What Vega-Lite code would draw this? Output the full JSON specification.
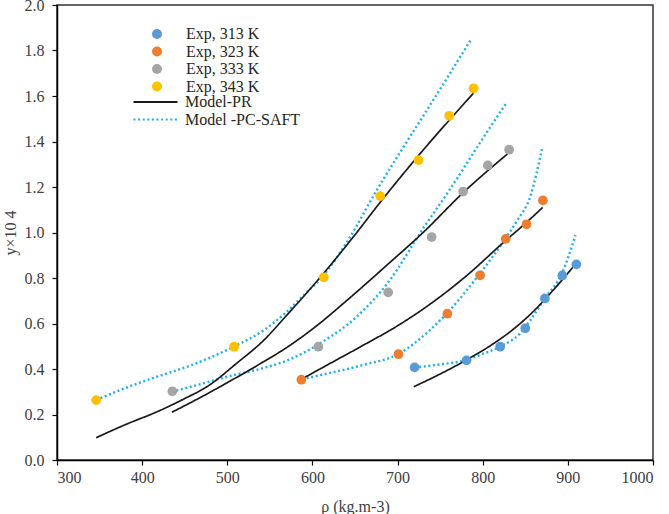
{
  "$schema": "https://vega.github.io/schema/vega-lite/v6.json",
  "width": 596,
  "height": 455,
  "autosize": "none",
  "padding": {"left": 57, "top": 5, "right": 16, "bottom": 54},
  "background": "white",
  "config": {
    "font": "Liberation Serif",
    "view": {"stroke": "#333333", "strokeWidth": 1.5},
    "style": {"guide-label": {"font": "Liberation Serif"}, "guide-title": {"font": "Liberation Serif"}},
    "axis": {
      "labelFont": "Liberation Serif", "labelFontSize": 16, "labelColor": "#404040",
      "titleFont": "Liberation Serif", "titleFontSize": 16, "titleFontWeight": "normal", "titleColor": "#404040",
      "domainColor": "#000000", "domainWidth": 1.5, "tickColor": "#000000", "tickWidth": 1.2, "tickSize": 5, "grid": false
    },
    "legend": {"labelFont": "Liberation Serif", "labelFontSize": 16, "labelColor": "#262626", "padding": 0, "rowPadding": 1.5, "titlePadding": 0}
  },
  "datasets": {
    "exp": [
      {"series": "Exp, 313 K", "rho": 720, "y": 0.407},
      {"series": "Exp, 313 K", "rho": 781, "y": 0.438},
      {"series": "Exp, 313 K", "rho": 820.5, "y": 0.498},
      {"series": "Exp, 313 K", "rho": 850, "y": 0.579},
      {"series": "Exp, 313 K", "rho": 873, "y": 0.71},
      {"series": "Exp, 313 K", "rho": 893.5, "y": 0.811},
      {"series": "Exp, 313 K", "rho": 910, "y": 0.86},
      {"series": "Exp, 323 K", "rho": 587, "y": 0.353},
      {"series": "Exp, 323 K", "rho": 701, "y": 0.465},
      {"series": "Exp, 323 K", "rho": 758.5, "y": 0.643},
      {"series": "Exp, 323 K", "rho": 797, "y": 0.812},
      {"series": "Exp, 323 K", "rho": 827, "y": 0.972},
      {"series": "Exp, 323 K", "rho": 851.5, "y": 1.036},
      {"series": "Exp, 323 K", "rho": 870.7, "y": 1.141},
      {"series": "Exp, 333 K", "rho": 435.5, "y": 0.302},
      {"series": "Exp, 333 K", "rho": 607, "y": 0.498},
      {"series": "Exp, 333 K", "rho": 689, "y": 0.737},
      {"series": "Exp, 333 K", "rho": 740, "y": 0.98},
      {"series": "Exp, 333 K", "rho": 777, "y": 1.18},
      {"series": "Exp, 333 K", "rho": 806, "y": 1.295},
      {"series": "Exp, 333 K", "rho": 831, "y": 1.364},
      {"series": "Exp, 343 K", "rho": 346, "y": 0.263},
      {"series": "Exp, 343 K", "rho": 508, "y": 0.498},
      {"series": "Exp, 343 K", "rho": 613.4, "y": 0.803},
      {"series": "Exp, 343 K", "rho": 679.6, "y": 1.16},
      {"series": "Exp, 343 K", "rho": 724.6, "y": 1.318},
      {"series": "Exp, 343 K", "rho": 760.7, "y": 1.513},
      {"series": "Exp, 343 K", "rho": 789.3, "y": 1.634}
    ],
    "pr": [
      {"series": "Model-PR", "curve": "PR343", "rho": 346, "y": 0.098},
      {"series": "Model-PR", "curve": "PR343", "rho": 380, "y": 0.155},
      {"series": "Model-PR", "curve": "PR343", "rho": 417.5, "y": 0.212},
      {"series": "Model-PR", "curve": "PR343", "rho": 450, "y": 0.27},
      {"series": "Model-PR", "curve": "PR343", "rho": 476, "y": 0.322},
      {"series": "Model-PR", "curve": "PR343", "rho": 511, "y": 0.425},
      {"series": "Model-PR", "curve": "PR343", "rho": 543, "y": 0.527},
      {"series": "Model-PR", "curve": "PR343", "rho": 570, "y": 0.637},
      {"series": "Model-PR", "curve": "PR343", "rho": 613, "y": 0.82},
      {"series": "Model-PR", "curve": "PR343", "rho": 650, "y": 0.99},
      {"series": "Model-PR", "curve": "PR343", "rho": 679, "y": 1.13},
      {"series": "Model-PR", "curve": "PR343", "rho": 725, "y": 1.34},
      {"series": "Model-PR", "curve": "PR343", "rho": 789, "y": 1.612},
      {"series": "Model-PR", "curve": "PR333", "rho": 435, "y": 0.21},
      {"series": "Model-PR", "curve": "PR333", "rho": 470, "y": 0.278},
      {"series": "Model-PR", "curve": "PR333", "rho": 500, "y": 0.34},
      {"series": "Model-PR", "curve": "PR333", "rho": 535, "y": 0.415},
      {"series": "Model-PR", "curve": "PR333", "rho": 570, "y": 0.495},
      {"series": "Model-PR", "curve": "PR333", "rho": 605, "y": 0.59},
      {"series": "Model-PR", "curve": "PR333", "rho": 640, "y": 0.7},
      {"series": "Model-PR", "curve": "PR333", "rho": 690, "y": 0.865},
      {"series": "Model-PR", "curve": "PR333", "rho": 730, "y": 1.0},
      {"series": "Model-PR", "curve": "PR333", "rho": 777, "y": 1.175},
      {"series": "Model-PR", "curve": "PR333", "rho": 829, "y": 1.345},
      {"series": "Model-PR", "curve": "PR323", "rho": 588, "y": 0.357},
      {"series": "Model-PR", "curve": "PR323", "rho": 621, "y": 0.425},
      {"series": "Model-PR", "curve": "PR323", "rho": 660, "y": 0.505},
      {"series": "Model-PR", "curve": "PR323", "rho": 700, "y": 0.59},
      {"series": "Model-PR", "curve": "PR323", "rho": 740, "y": 0.69},
      {"series": "Model-PR", "curve": "PR323", "rho": 781, "y": 0.81},
      {"series": "Model-PR", "curve": "PR323", "rho": 824, "y": 0.955},
      {"series": "Model-PR", "curve": "PR323", "rho": 851.6, "y": 1.045},
      {"series": "Model-PR", "curve": "PR323", "rho": 870.4, "y": 1.11},
      {"series": "Model-PR", "curve": "PR313", "rho": 719, "y": 0.322},
      {"series": "Model-PR", "curve": "PR313", "rho": 750, "y": 0.378},
      {"series": "Model-PR", "curve": "PR313", "rho": 781, "y": 0.44},
      {"series": "Model-PR", "curve": "PR313", "rho": 810, "y": 0.505},
      {"series": "Model-PR", "curve": "PR313", "rho": 836, "y": 0.575},
      {"series": "Model-PR", "curve": "PR313", "rho": 860, "y": 0.655},
      {"series": "Model-PR", "curve": "PR313", "rho": 880, "y": 0.735},
      {"series": "Model-PR", "curve": "PR313", "rho": 906.5, "y": 0.85}
    ],
    "pc": [
      {"series": "Model -PC-SAFT", "curve": "PC343", "rho": 346, "y": 0.264},
      {"series": "Model -PC-SAFT", "curve": "PC343", "rho": 390, "y": 0.33},
      {"series": "Model -PC-SAFT", "curve": "PC343", "rho": 417.5, "y": 0.366},
      {"series": "Model -PC-SAFT", "curve": "PC343", "rho": 460, "y": 0.42},
      {"series": "Model -PC-SAFT", "curve": "PC343", "rho": 507.5, "y": 0.498},
      {"series": "Model -PC-SAFT", "curve": "PC343", "rho": 543, "y": 0.571},
      {"series": "Model -PC-SAFT", "curve": "PC343", "rho": 570, "y": 0.652},
      {"series": "Model -PC-SAFT", "curve": "PC343", "rho": 590, "y": 0.725},
      {"series": "Model -PC-SAFT", "curve": "PC343", "rho": 613, "y": 0.812},
      {"series": "Model -PC-SAFT", "curve": "PC343", "rho": 640, "y": 0.955},
      {"series": "Model -PC-SAFT", "curve": "PC343", "rho": 677, "y": 1.195},
      {"series": "Model -PC-SAFT", "curve": "PC343", "rho": 711, "y": 1.4},
      {"series": "Model -PC-SAFT", "curve": "PC343", "rho": 734, "y": 1.535},
      {"series": "Model -PC-SAFT", "curve": "PC343", "rho": 760, "y": 1.69},
      {"series": "Model -PC-SAFT", "curve": "PC343", "rho": 787, "y": 1.853},
      {"series": "Model -PC-SAFT", "curve": "PC333", "rho": 435, "y": 0.3},
      {"series": "Model -PC-SAFT", "curve": "PC333", "rho": 470, "y": 0.335},
      {"series": "Model -PC-SAFT", "curve": "PC333", "rho": 500, "y": 0.366},
      {"series": "Model -PC-SAFT", "curve": "PC333", "rho": 540, "y": 0.402},
      {"series": "Model -PC-SAFT", "curve": "PC333", "rho": 570, "y": 0.437},
      {"series": "Model -PC-SAFT", "curve": "PC333", "rho": 609, "y": 0.513},
      {"series": "Model -PC-SAFT", "curve": "PC333", "rho": 652, "y": 0.63},
      {"series": "Model -PC-SAFT", "curve": "PC333", "rho": 691, "y": 0.791},
      {"series": "Model -PC-SAFT", "curve": "PC333", "rho": 730, "y": 1.018},
      {"series": "Model -PC-SAFT", "curve": "PC333", "rho": 761, "y": 1.187},
      {"series": "Model -PC-SAFT", "curve": "PC333", "rho": 799, "y": 1.407},
      {"series": "Model -PC-SAFT", "curve": "PC333", "rho": 827, "y": 1.565},
      {"series": "Model -PC-SAFT", "curve": "PC323", "rho": 588, "y": 0.355},
      {"series": "Model -PC-SAFT", "curve": "PC323", "rho": 621, "y": 0.383},
      {"series": "Model -PC-SAFT", "curve": "PC323", "rho": 660, "y": 0.418},
      {"series": "Model -PC-SAFT", "curve": "PC323", "rho": 701, "y": 0.466},
      {"series": "Model -PC-SAFT", "curve": "PC323", "rho": 738, "y": 0.571},
      {"series": "Model -PC-SAFT", "curve": "PC323", "rho": 758, "y": 0.645},
      {"series": "Model -PC-SAFT", "curve": "PC323", "rho": 797, "y": 0.821},
      {"series": "Model -PC-SAFT", "curve": "PC323", "rho": 812, "y": 0.895},
      {"series": "Model -PC-SAFT", "curve": "PC323", "rho": 827, "y": 0.975},
      {"series": "Model -PC-SAFT", "curve": "PC323", "rho": 840, "y": 1.05},
      {"series": "Model -PC-SAFT", "curve": "PC323", "rho": 856, "y": 1.16},
      {"series": "Model -PC-SAFT", "curve": "PC323", "rho": 870, "y": 1.374},
      {"series": "Model -PC-SAFT", "curve": "PC313", "rho": 720, "y": 0.407},
      {"series": "Model -PC-SAFT", "curve": "PC313", "rho": 750, "y": 0.42},
      {"series": "Model -PC-SAFT", "curve": "PC313", "rho": 781, "y": 0.44},
      {"series": "Model -PC-SAFT", "curve": "PC313", "rho": 797, "y": 0.462},
      {"series": "Model -PC-SAFT", "curve": "PC313", "rho": 820, "y": 0.498},
      {"series": "Model -PC-SAFT", "curve": "PC313", "rho": 844, "y": 0.557},
      {"series": "Model -PC-SAFT", "curve": "PC313", "rho": 856, "y": 0.615},
      {"series": "Model -PC-SAFT", "curve": "PC313", "rho": 873, "y": 0.711},
      {"series": "Model -PC-SAFT", "curve": "PC313", "rho": 893, "y": 0.82},
      {"series": "Model -PC-SAFT", "curve": "PC313", "rho": 909, "y": 0.989}
    ]
  },
  "encoding": {
    "x": {
      "field": "rho", "type": "quantitative",
      "scale": {"domain": [300, 1000], "nice": false, "zero": false},
      "axis": {"values": [300, 400, 500, 600, 700, 800, 900, 1000], "format": "d", "title": "ρ (kg.m-3)", "labelFont": "Liberation Serif", "titleFont": "Liberation Serif", "labelPadding": 4, "titlePadding": 13}
    },
    "y": {
      "field": "y", "type": "quantitative",
      "scale": {"domain": [0, 2], "nice": false},
      "axis": {"values": [0, 0.2, 0.4, 0.6, 0.8, 1.0, 1.2, 1.4, 1.6, 1.8, 2.0], "format": ".1f", "title": "y×10 4", "labelFont": "Liberation Serif", "titleFont": "Liberation Serif", "labelPadding": 8, "titlePadding": 6}
    }
  },
  "layer": [
    {
      "data": {"name": "pc"},
      "mark": {"type": "line", "strokeWidth": 2.4, "strokeCap": "butt", "interpolate": "monotone"},
      "encoding": {
        "detail": {"field": "curve", "type": "nominal"},
        "color": {
          "field": "series", "type": "nominal",
          "scale": {"domain": ["Model-PR", "Model -PC-SAFT"], "range": ["#1a1a1a", "#1CB0EE"]},
          "legend": {
            "orient": "none", "legendX": 90.5, "legendY": 89, "title": null,
            "symbolType": "M-4,0H4", "symbolSize": 121, "symbolStrokeWidth": 2.2, "labelOffset": 21.5
          }
        },
        "strokeDash": {
          "field": "series", "type": "nominal",
          "scale": {"domain": ["Model-PR", "Model -PC-SAFT"], "range": [[1, 0], [2, 2.6]]},
          "legend": {
            "orient": "none", "legendX": 90.5, "legendY": 89, "title": null,
            "symbolType": "M-4,0H4", "symbolSize": 121, "symbolStrokeWidth": 2.2, "labelOffset": 21.5
          }
        }
      }
    },
    {
      "data": {"name": "pr"},
      "mark": {"type": "line", "strokeWidth": 1.7, "interpolate": "monotone"},
      "encoding": {
        "detail": {"field": "curve", "type": "nominal"},
        "color": {"field": "series", "type": "nominal"},
        "strokeDash": {"field": "series", "type": "nominal"}
      }
    },
    {
      "data": {"name": "exp"},
      "mark": {"type": "circle", "size": 95, "opacity": 1},
      "encoding": {
        "fill": {
          "field": "series", "type": "nominal",
          "scale": {
            "domain": ["Exp, 313 K", "Exp, 323 K", "Exp, 333 K", "Exp, 343 K"],
            "range": ["#5B9BD5", "#ED7D31", "#A5A5A5", "#FFC000"]
          },
          "legend": {
            "orient": "none", "legendX": 92, "legendY": 21, "title": null,
            "symbolType": "circle", "symbolSize": 100, "symbolOpacity": 1, "labelOffset": 21
          }
        }
      }
    }
  ]
}
